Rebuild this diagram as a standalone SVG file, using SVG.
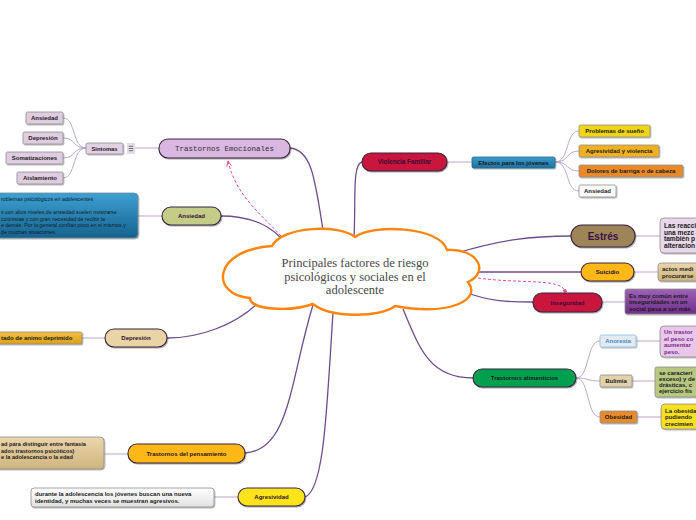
<svg xmlns="http://www.w3.org/2000/svg" width="696" height="520" viewBox="0 0 696 520">
<defs>
<style>
.main{fill:none;stroke:#6E4C8E;stroke-width:1.3}
.sub{fill:none;stroke:#BCA6CC;stroke-width:1}
.dash{fill:none;stroke:#EC4C8E;stroke-width:1;stroke-dasharray:3 2}
.l1{stroke:#3A2440;stroke-width:1.1;filter:url(#sh)}
.l2{stroke:#8E8E8E;stroke-width:0.8;filter:url(#sh)}
.t{font-family:"Liberation Sans",Arial,sans-serif;font-weight:bold;font-size:6px;fill:#2A1030;text-anchor:middle}
.n{font-family:"Liberation Sans",Arial,sans-serif;font-weight:bold;font-size:6px;fill:#1A1A1A}
</style>
<filter id="sh" x="-20%" y="-30%" width="140%" height="170%">
<feDropShadow dx="0.8" dy="1" stdDeviation="0.6" flood-color="#000" flood-opacity="0.35"/>
</filter>
<linearGradient id="gBlue" x1="0" y1="0" x2="0" y2="1"><stop offset="0" stop-color="#3DA0D2"/><stop offset="1" stop-color="#17628F"/></linearGradient>
<linearGradient id="gBlue2" x1="0" y1="0" x2="0" y2="1"><stop offset="0" stop-color="#3C9CCC"/><stop offset="1" stop-color="#1E6F9E"/></linearGradient>
<linearGradient id="gTan" x1="0" y1="0" x2="0" y2="1"><stop offset="0" stop-color="#EAD6AC"/><stop offset="1" stop-color="#CFB47E"/></linearGradient>
<linearGradient id="gGray" x1="0" y1="0" x2="0" y2="1"><stop offset="0" stop-color="#FFFFFF"/><stop offset="1" stop-color="#E2E2E2"/></linearGradient>
<linearGradient id="gPurp" x1="0" y1="0" x2="0" y2="1"><stop offset="0" stop-color="#9E62B6"/><stop offset="1" stop-color="#6E2E8C"/></linearGradient>
<linearGradient id="gOr" x1="0" y1="0" x2="0" y2="1"><stop offset="0" stop-color="#F2C040"/><stop offset="1" stop-color="#DCA018"/></linearGradient>
<marker id="arr" viewBox="0 0 10 10" refX="9" refY="5" markerWidth="6" markerHeight="6" orient="auto"><path d="M0 1 L9 5 L0 9" fill="none" stroke="#EC4C8E" stroke-width="1.5"/></marker>
<marker id="sq" viewBox="0 0 10 10" refX="5" refY="5" markerWidth="4" markerHeight="4" orient="auto"><rect x="1" y="1" width="8" height="8" fill="#EC4C8E"/></marker>
</defs>
<rect width="696" height="520" fill="#FFFFFF"/>

<g id="connectors">
<path class="main" d="M323 230 C315 180 312 150 290 148"/>
<path class="sub" d="M135 148 L159 148"/>
<path class="sub" d="M86 148 C72 148 76 118 63 118"/>
<path class="sub" d="M86 148 C72 148 76 138 63 138"/>
<path class="sub" d="M86 148 C72 148 76 158 63 158"/>
<path class="sub" d="M86 148 C72 148 76 178 63 178"/>
<path class="main" d="M281 238 C266 222 246 216 221 216"/>
<path class="sub" d="M138 216 L162 216"/>
<path class="main" d="M258 303 C235 325 200 338 167 338"/>
<path class="sub" d="M82 338 L105 338"/>
<path class="main" d="M313 305 C290 380 290 450 245 453"/>
<path class="sub" d="M104 454 L128 454"/>
<path class="main" d="M333 313 C327 400 325 490 305 497"/>
<path class="sub" d="M214 497 L238 497"/>
<path class="main" d="M354 237 C356 200 352 164 362 162"/>
<path class="sub" d="M447 162 L472 162"/>
<path class="sub" d="M555 162 C570 162 565 131 579 131"/>
<path class="sub" d="M555 162 C570 162 565 151 579 151"/>
<path class="sub" d="M555 162 C570 162 565 171 579 171"/>
<path class="sub" d="M555 162 C570 162 565 191 579 191"/>
<path class="main" d="M457 253 C500 240 530 236 571 236"/>
<path class="sub" d="M635 236 L660 236"/>
<path class="main" d="M479 272 L581 272"/>
<path class="sub" d="M634 272 L658 272"/>
<path class="main" d="M462 291 C490 302 510 302 533 302"/>
<path class="sub" d="M602 302 L625 302"/>
<path class="main" d="M403 309 C420 350 430 378 473 378"/>
<path class="sub" d="M576 378 C590 378 586 341 600 341"/>
<path class="sub" d="M576 378 C590 378 586 381 600 381"/>
<path class="sub" d="M576 378 C590 378 586 417 600 417"/>
<path class="sub" d="M636 341 L660 341"/>
<path class="sub" d="M632 381 L655 381"/>
<path class="sub" d="M637 417 L661 417"/>
<path class="dash" d="M281 236 C262 215 236 196 228 161" marker-end="url(#arr)"/>
<path class="dash" d="M478 278 C520 284 560 278 565 291" marker-end="url(#sq)"/>
</g>

<g id="central">
<path d="M272 246 C282 226 340 224 355 237 C372 224 440 226 447 250 C478 248 490 272 468 282 C482 300 450 316 395 306 C380 318 330 318 313 304 C290 312 250 310 250 298 C210 295 212 250 272 246 Z" fill="#FFFFFF" stroke="#FF8410" stroke-width="2.4"/>
<g font-family="'Liberation Serif','Times New Roman',serif" font-size="12.5" fill="#474747" text-anchor="middle">
<text x="355" y="267">Principales factores de riesgo</text>
<text x="355" y="281">psicológicos y sociales en el</text>
<text x="355" y="294">adolescente</text>
</g>
</g>

<g id="trastornos-emocionales">
<rect class="l1" x="159" y="139" width="131" height="19" rx="9" fill="#D8B8E0" stroke="#5A3A6A"/>
<text x="224.5" y="151" font-family="'Liberation Mono','Courier New',monospace" font-size="7.5" fill="#3A2A3A" text-anchor="middle">Trastornos Emocionales</text>
</g>
<g id="sintomas">
<rect class="l2" x="86" y="143" width="37" height="11" rx="1.5" fill="#E2D0E4"/>
<text class="t" x="104.5" y="150.8" style="font-size:5.8px;fill:#222">Sintomas</text>
<rect x="127" y="143" width="8" height="11" rx="1" fill="#E6DAEA"/>
<path d="M128.8 146.3 H133.2 M128.8 148.5 H133.2 M128.8 150.7 H133.2" stroke="#555" stroke-width="0.8"/>
</g>
<g id="s-ansiedad"><rect class="l2" x="26" y="112" width="37" height="12" rx="1.5" fill="#E0CCE0"/><text class="t" x="44.5" y="120.2" style="fill:#222">Ansiedad</text></g>
<g id="s-depresion"><rect class="l2" x="23" y="132" width="40" height="12" rx="1.5" fill="#E0CCE0"/><text class="t" x="43" y="140.2" style="fill:#222">Depresión</text></g>
<g id="s-somatizaciones"><rect class="l2" x="6" y="152" width="57" height="12" rx="1.5" fill="#E0CCE0"/><text class="t" x="34.5" y="160.2" style="fill:#222">Somatizaciones</text></g>
<g id="s-aislamiento"><rect class="l2" x="17" y="172" width="46" height="12" rx="1.5" fill="#E0CCE0"/><text class="t" x="40" y="180.2" style="fill:#222">Aislamiento</text></g>

<g id="ansiedad">
<rect class="l1" x="162" y="207" width="59" height="18" rx="9" fill="#C4CC88"/>
<text class="t" x="191.5" y="218.2">Ansiedad</text>
</g>
<g id="ansiedad-nota">
<rect x="-5" y="193" width="143" height="45" rx="4" fill="url(#gBlue)" stroke="#6A8A9A" stroke-width="0.8" filter="url(#sh)"/>
<g font-family="'Liberation Sans',Arial,sans-serif" font-size="5.3" fill="#0E1E28">
<text x="1" y="201">roblemas psicológicos en adolescentes</text>
<text x="1" y="214">s con altos niveles de ansiedad suelen mostrarse</text>
<text x="1" y="220.5">ccionistas y con gran necesidad de recibir la</text>
<text x="1" y="227">e demás. Por lo general confían poco en sí mismos y</text>
<text x="1" y="233.5">de muchas situaciones.</text>
</g>
</g>

<g id="depresion">
<rect class="l1" x="105" y="329" width="62" height="18" rx="9" fill="#E8D4A4"/>
<text class="t" x="136" y="340.2">Depresión</text>
</g>
<g id="depresion-nota">
<rect class="l2" x="-5" y="332" width="87" height="12" rx="1.5" fill="url(#gOr)"/>
<text class="n" x="1" y="340.2">tado de animo deprimido</text>
</g>

<g id="trastornos-pensamiento">
<rect class="l1" x="128" y="444" width="117" height="19" rx="9" fill="#FFB818"/>
<text class="t" x="186.5" y="455.8">Trastornos del pensamiento</text>
</g>
<g id="pensamiento-nota">
<rect class="l2" x="-5" y="437" width="109" height="32" rx="4" fill="url(#gTan)"/>
<g class="n" style="font-size:5.6px">
<text x="1" y="446">ad para distinguir entre fantasía</text>
<text x="1" y="452.5">ados trastornos psicóticos)</text>
<text x="1" y="459">e la adolescencia o la edad</text>
</g>
</g>

<g id="agresividad">
<rect class="l1" x="238" y="488" width="67" height="18" rx="9" fill="#FFE41A"/>
<text class="t" x="271.5" y="499.2">Agresividad</text>
</g>
<g id="agresividad-nota">
<rect class="l2" x="31" y="488" width="183" height="19" rx="3" fill="url(#gGray)"/>
<g class="n">
<text x="35" y="495.5">durante la adolescencia los jóvenes buscan una nueva</text>
<text x="35" y="502.5">identidad, y muchas veces se muestran agresivos.</text>
</g>
</g>

<g id="violencia-familiar">
<rect class="l1" x="362" y="153" width="85" height="18" rx="9" fill="#C8143C"/>
<text class="t" x="404.5" y="164.2" style="font-size:6.3px;fill:#3A0A3A">Violencia Familiar</text>
</g>
<g id="efectos">
<rect class="l2" x="472" y="157" width="83" height="11" rx="1.5" fill="url(#gBlue2)" style="stroke:#2A6A90"/>
<text class="t" x="513.5" y="164.7" style="fill:#101820">Efectos para los jóvenes</text>
</g>
<g id="e-sueno"><rect class="l2" x="579" y="125" width="71" height="12" rx="1.5" fill="#F0D418"/><text class="t" x="614.5" y="133.2" style="fill:#1A1A1A">Problemas de sueño</text></g>
<g id="e-agresividad"><rect class="l2" x="579" y="145" width="80" height="12" rx="1.5" fill="#F0B020"/><text class="t" x="619" y="153.2" style="fill:#1A1A1A">Agresividad y violencia</text></g>
<g id="e-dolores"><rect class="l2" x="579" y="165" width="104" height="12" rx="1.5" fill="#E88A2C"/><text class="t" x="631" y="173.2" style="fill:#1A1A1A">Dolores de barriga o de cabeza</text></g>
<g id="e-ansiedad"><rect class="l2" x="579" y="185" width="37" height="12" rx="1.5" fill="#FAFAFA"/><text class="t" x="597.5" y="193.2" style="fill:#1A1A1A">Ansiedad</text></g>

<g id="estres">
<rect class="l1" x="571" y="225" width="64" height="22" rx="11" fill="#9E8558"/>
<text class="t" x="603" y="239.5" style="font-size:10px;fill:#3A1048">Estrés</text>
</g>
<g id="estres-nota">
<rect class="l2" x="660" y="218" width="50" height="35" rx="4" fill="#E8D8EA"/>
<g class="n" style="font-size:6.6px">
<text x="664" y="228">Las reacci</text>
<text x="664" y="234.5">una mezc</text>
<text x="664" y="241">también p</text>
<text x="664" y="247.5">alteracion</text>
</g>
</g>

<g id="suicidio">
<rect class="l1" x="581" y="263" width="53" height="18" rx="9" fill="#FFB818"/>
<text class="t" x="607.5" y="274.2">Suicidio</text>
</g>
<g id="suicidio-nota">
<rect class="l2" x="658" y="263" width="50" height="18" rx="3" fill="url(#gTan)"/>
<g class="n">
<text x="662" y="270.5">actos medi</text>
<text x="662" y="277.8">procurarse</text>
</g>
</g>

<g id="inseguridad">
<rect class="l1" x="533" y="293" width="69" height="19" rx="9" fill="#C8143C"/>
<text class="t" x="567.5" y="304.8" style="fill:#3A0A3A">Inseguridad</text>
</g>
<g id="inseguridad-nota">
<rect class="l2" x="625" y="289" width="80" height="25" rx="2" fill="url(#gPurp)"/>
<g class="n" style="font-size:6px">
<text x="629" y="297.5">Es muy común entre</text>
<text x="629" y="304">inseguridades en un</text>
<text x="629" y="310.5">social pasa a ser más</text>
</g>
</g>

<g id="trastornos-alimenticios">
<rect class="l1" x="473" y="369" width="103" height="18" rx="9" fill="#00A050"/>
<text class="t" x="524.5" y="380.2" style="fill:#1A1A1A">Trastornos alimenticios</text>
</g>
<g id="anorexia"><rect class="l2" x="600" y="335" width="36" height="12" rx="1.5" fill="#E4EAF2" style="stroke:#8AC0E6"/><text class="t" x="618" y="343.2" style="fill:#3A8CC4">Anorexia</text></g>
<g id="anorexia-nota">
<rect class="l2" x="660" y="326" width="50" height="31" rx="4" fill="#E8C8EA"/>
<g class="n" style="fill:#7A2A8A">
<text x="664" y="334">Un trastor</text>
<text x="664" y="340.5">el peso co</text>
<text x="664" y="347">aumentar</text>
<text x="664" y="353.5">peso.</text>
</g>
</g>
<g id="bulimia"><rect class="l2" x="600" y="375" width="32" height="12" rx="1.5" fill="#E2D2AA"/><text class="t" x="616" y="383.2" style="fill:#1A1A1A">Bulimia</text></g>
<g id="bulimia-nota">
<rect class="l2" x="655" y="367" width="50" height="30" rx="2" fill="#B8C880"/>
<g class="n">
<text x="659" y="374.5">se caracteri</text>
<text x="659" y="380.8">exceso) y de</text>
<text x="659" y="387.1">drásticas, c</text>
<text x="659" y="393.4">ejercicio fís</text>
</g>
</g>
<g id="obesidad"><rect class="l2" x="600" y="411" width="37" height="12" rx="1.5" fill="#E88A2C"/><text class="t" x="618.5" y="419.2" style="fill:#1A1A1A">Obesidad</text></g>
<g id="obesidad-nota">
<rect class="l2" x="661" y="404" width="50" height="25" rx="4" fill="#F8E020"/>
<g class="n">
<text x="665" y="412.5">La obesida</text>
<text x="665" y="419">pudiendo</text>
<text x="665" y="425.5">crecimien</text>
</g>
</g>
</svg>
